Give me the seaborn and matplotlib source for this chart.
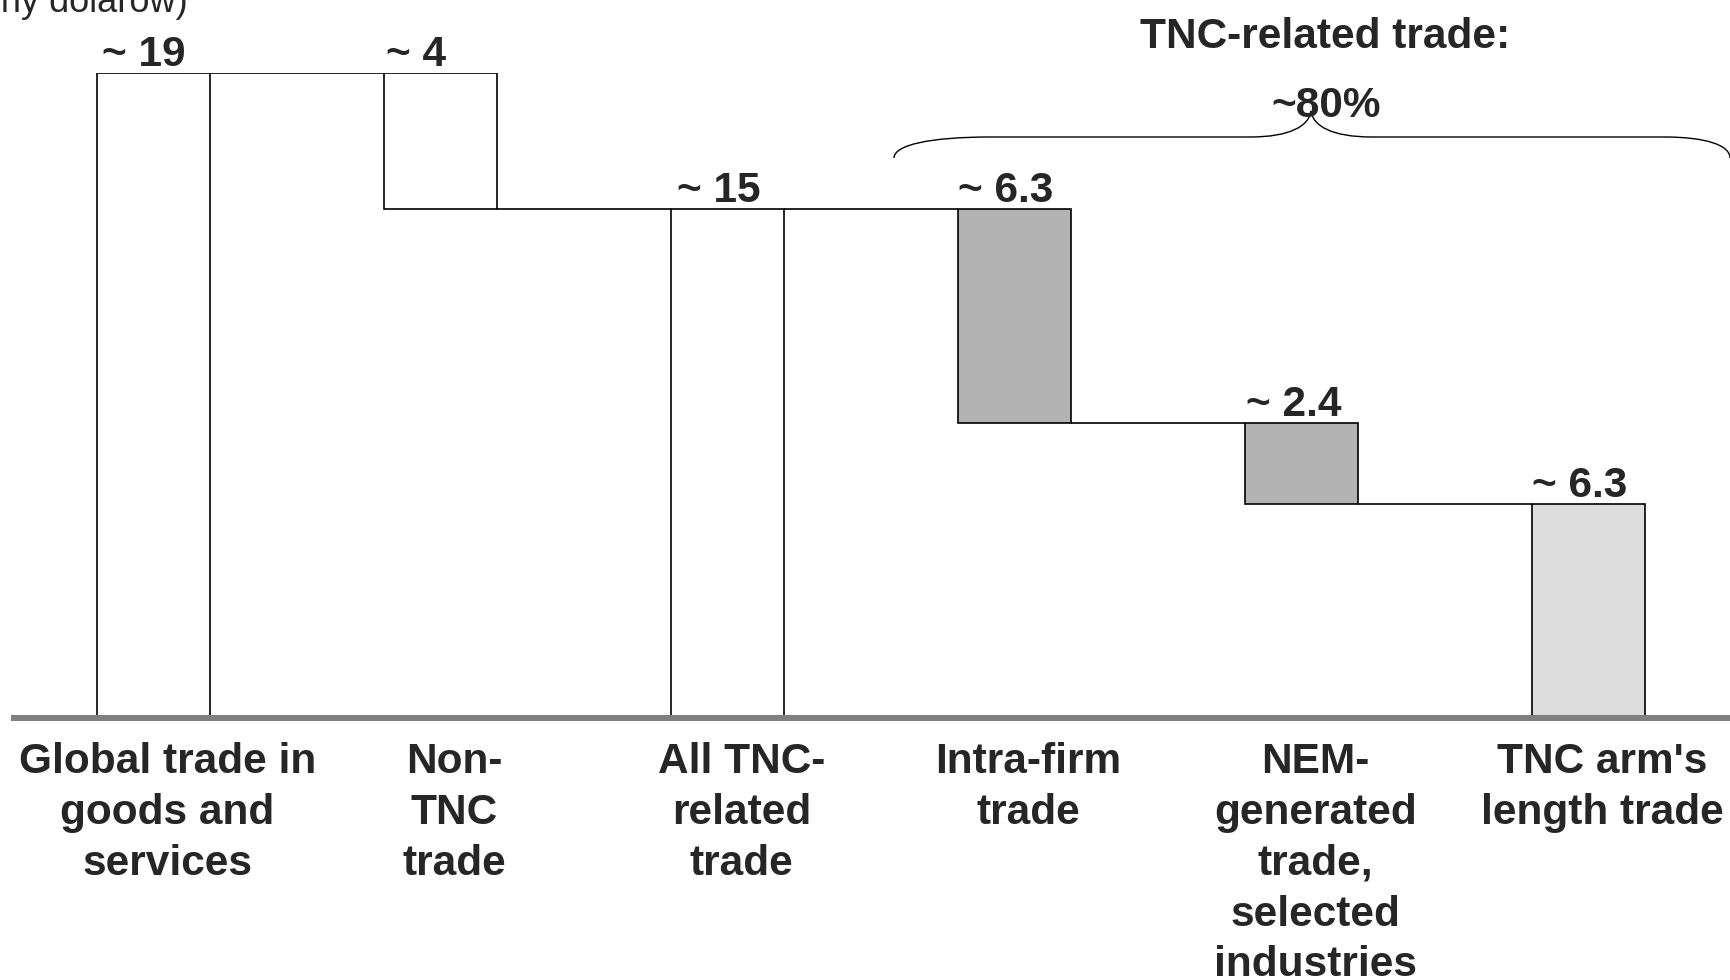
import matplotlib
matplotlib.use("Agg")
import matplotlib.pyplot as plt
import matplotlib.transforms as mtransforms
from matplotlib.path import Path
from matplotlib.patches import PathPatch
import seaborn as sns
import pandas as pd

# ---- data ----
categories = [
    "Global trade in\ngoods and\nservices",
    "Non-\nTNC\ntrade",
    "All TNC-\nrelated\ntrade",
    "Intra-firm\ntrade",
    "NEM-\ngenerated\ntrade,\nselected\nindustries",
    "TNC arm's\nlength trade",
]
values = [19, 4, 15, 6.3, 2.4, 6.3]
bottoms = [0, 15, 0, 8.7, 6.3, 0]
value_labels = ["~ 19", "~ 4", "~ 15", "~ 6.3", "~ 2.4", "~ 6.3"]
bar_colors = ["#ffffff", "#ffffff", "#ffffff", "#b3b3b3", "#b3b3b3", "#dddddd"]
label_dx = [-10, -24, -9, -9, -8, -9]
group_title = "TNC-related trade:"
group_share = "~80%"
unit_text = "(biliony dolarów)"

sns.set_style("white")
plt.rcParams["font.family"] = ["Liberation Sans", "DejaVu Sans"]

W, H = 1731, 980
fig = plt.figure(figsize=(W / 100, H / 100), dpi=100)
fig.patch.set_facecolor("white")

zero_px, top_px = 718, 73
ax = fig.add_axes([0, (H - zero_px) / H, 1, (zero_px - top_px) / H])
ax.set_facecolor("none")

df = pd.DataFrame({"cat": categories, "val": values})
sns.barplot(data=df, x="cat", y="val", order=categories, width=0.395,
            errorbar=None, color="white", edgecolor="black", linewidth=1.2,
            bottom=bottoms, ax=ax, zorder=2)
for p, c in zip(ax.patches, bar_colors):
    p.set_facecolor(c)

ax.set_xlim(-0.535, 5.497)
ax.set_ylim(0, 19)
for s in ax.spines.values():
    s.set_visible(False)
ax.set_xticks([])
ax.set_yticks([])
ax.set_xlabel("")
ax.set_ylabel("")

half = 0.395 / 2
tops = [b + v for b, v in zip(bottoms, values)]
# connector lines between successive bars
for i in range(len(values) - 1):
    if i == 0:
        level = tops[0]
    elif bottoms[i] > 0:
        level = bottoms[i]
    else:
        level = tops[i]
    ax.hlines(level, i + half, i + 1 - half, color="black", lw=1.2, zorder=1)

# baseline
ax.hlines(0, -0.497, 5.6, color="#808080", lw=4.4, zorder=3, clip_on=False)

# value labels
for i, (t, lab) in enumerate(zip(tops, value_labels)):
    ax.annotate(lab, xy=(i, t), xytext=(label_dx[i], 7), textcoords="offset pixels",
                ha="center", va="baseline", fontsize=30.5, fontweight="bold",
                annotation_clip=False)

# category labels
for i, lab in enumerate(categories):
    ax.annotate(lab, xy=(i, 0), xytext=(14, -24), textcoords="offset pixels",
                ha="center", va="top", multialignment="center", fontsize=30.5,
                fontweight="bold", linespacing=1.35, annotation_clip=False)

# header texts
fig.text(1325 / W, 1 - 48 / H, group_title, ha="center", va="baseline",
         fontsize=30.5, fontweight="bold")
fig.text(1326 / W, 1 - 117 / H, group_share, ha="center", va="baseline",
         fontsize=30.5, fontweight="bold")
fig.text(188 / W, 1 - 12 / H, unit_text, ha="right", va="baseline", fontsize=26)

# curly brace (pixel coords, top-origin)
pix = mtransforms.Affine2D().scale(1 / W, -1 / H).translate(0, 1) + fig.transFigure
verts = [(894, 158), (894, 145), (930, 137), (990, 137),
         (1250, 137),
         (1290, 137), (1309, 126), (1311, 111),
         (1313, 126), (1332, 137), (1372, 137),
         (1665, 137),
         (1705, 137), (1730, 145), (1730, 158)]
codes = [Path.MOVETO, Path.CURVE4, Path.CURVE4, Path.CURVE4,
         Path.LINETO,
         Path.CURVE4, Path.CURVE4, Path.CURVE4,
         Path.CURVE4, Path.CURVE4, Path.CURVE4,
         Path.LINETO,
         Path.CURVE4, Path.CURVE4, Path.CURVE4]
fig.patches.append(PathPatch(Path(verts, codes), transform=pix, fill=False,
                             edgecolor="black", lw=1.0))

fig.savefig("out.png", dpi=100, facecolor="white")
